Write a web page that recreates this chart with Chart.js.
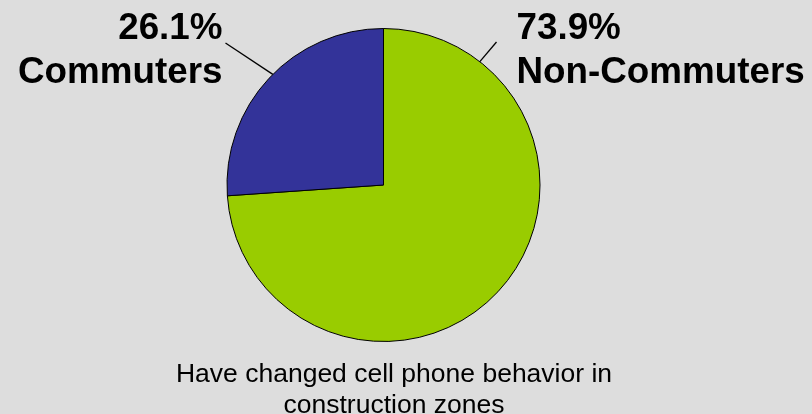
<!DOCTYPE html>
<html>
<head>
<meta charset="utf-8">
<script src="https://cdn.jsdelivr.net/npm/chart.js@4/dist/chart.umd.min.js"></script>
<style>
  html, body { margin: 0; padding: 0; background: #dddddd; }
  #wrap { width: 812px; height: 414px; }
</style>
</head>
<body>
<div id="wrap"><canvas id="pie" width="812" height="414"></canvas></div>
<script>
const categories = ['Non-Commuters', 'Commuters']
const shares = [73.9, 26.1]
const titleLines = ['Have changed cell phone behavior in', 'construction zones']

const sliceColors = ['#99cc00', '#333399']
const fontFamily = '"Liberation Sans", Arial, Helvetica, sans-serif'

// where each label sits, relative to the pie centre (px)
const labelSpots = [
  { edgeAngle: 38, lineEnd: { dx: 113, dy: -143 }, textX: 133, textY: -146, align: 'left' },
  { edgeAngle: 315, lineEnd: { dx: -158, dy: -142 }, textX: -161, textY: -146, align: 'right' }
]

const pieNotes = {
  id: 'pieNotes',
  afterDatasetsDraw(chart) {
    const ctx = chart.ctx
    const meta = chart.getDatasetMeta(0)
    const values = chart.data.datasets[0].data
    const labels = chart.data.labels

    meta.data.forEach((arc, i) => {
      const spot = labelSpots[i]
      const { x, y, outerRadius } = arc.getProps(['x', 'y', 'outerRadius'], true)
      const a = spot.edgeAngle * Math.PI / 180
      const sx = x + Math.sin(a) * outerRadius
      const sy = y - Math.cos(a) * outerRadius

      ctx.save()
      ctx.strokeStyle = '#000'
      ctx.lineWidth = 1.3
      ctx.beginPath()
      ctx.moveTo(sx, sy)
      ctx.lineTo(x + spot.lineEnd.dx, y + spot.lineEnd.dy)
      ctx.stroke()

      ctx.fillStyle = '#000'
      ctx.font = 'bold 36.8px ' + fontFamily
      ctx.textAlign = spot.align
      ctx.textBaseline = 'alphabetic'
      ctx.fillText(values[i].toFixed(1) + '%', x + spot.textX, y + spot.textY)
      ctx.fillText(labels[i], x + spot.textX, y + spot.textY + 44)
      ctx.restore()
    })

    // caption under the pie
    const cx = (chart.chartArea.left + chart.chartArea.right) / 2 + 10.5
    ctx.save()
    ctx.fillStyle = '#000'
    ctx.font = '26.5px ' + fontFamily
    ctx.textAlign = 'center'
    ctx.textBaseline = 'alphabetic'
    titleLines.forEach((line, i) => {
      ctx.fillText(line, cx, chart.chartArea.bottom + 40 + i * 30.5)
    })
    ctx.restore()
  }
}

const renderPie = () => {
  const ctx = document.querySelector('#pie').getContext('2d')
  new Chart(ctx, {
    type: 'pie',
    data: {
      labels: categories,
      datasets: [{
        data: shares,
        backgroundColor: sliceColors,
        borderColor: '#000',
        borderWidth: 1
      }]
    },
    options: {
      responsive: false,
      animation: false,
      layout: { padding: { left: 0, right: 45, top: 28, bottom: 72 } },
      plugins: {
        legend: { display: false },
        tooltip: { enabled: false },
        title: { display: false }
      }
    },
    plugins: [pieNotes]
  })
}

renderPie()
</script>
</body>
</html>
